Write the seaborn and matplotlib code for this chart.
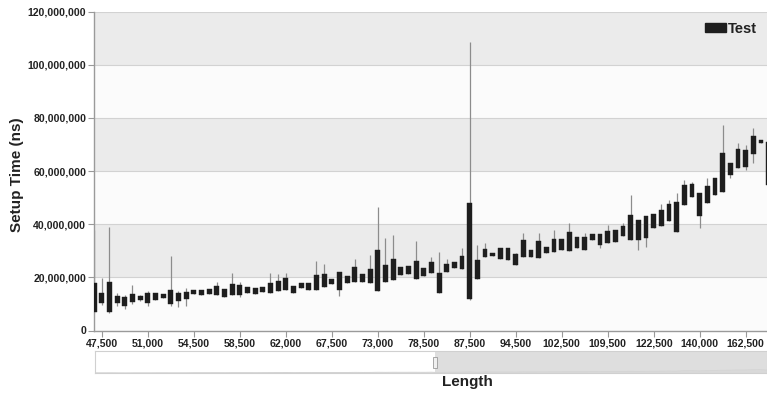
import numpy as np
import pandas as pd
import seaborn as sns
import matplotlib
matplotlib.use("Agg")
import matplotlib.pyplot as plt
from matplotlib.patches import Patch, Rectangle

# ---- data (values in millions of ns) ----
body_top = [18.0, 14.2, 18.4, 13.0, 12.7, 13.7, 13.0, 14.2, 14.0, 13.7,
            15.2, 14.2, 14.6, 15.2, 15.2, 15.5, 16.7, 15.6, 17.5, 17.1,
            16.5, 15.9, 16.5, 17.8, 18.6, 19.6, 16.7, 17.8, 17.8, 20.8,
            21.4, 19.5, 22.1, 20.5, 23.8, 21.4, 23.0, 30.3, 24.8, 26.8,
            24.0, 24.2, 26.3, 23.4, 25.9, 21.8, 25.1, 25.6, 28.1, 47.9,
            26.6, 30.6, 29.3, 30.9, 31.1, 28.8, 34.2, 30.3, 33.6, 31.3,
            34.3, 34.4, 37.0, 35.1, 35.1, 36.3, 36.3, 37.4, 37.8, 39.3,
            43.5, 41.5, 43.1, 43.7, 45.3, 47.5, 48.5, 54.8, 55.1, 51.9,
            54.4, 57.3, 66.7, 63.1, 68.2, 67.9, 73.2, 71.7, 71.0]
body_bottom = [7.1, 10.2, 7.0, 10.5, 9.2, 10.6, 11.5, 10.2, 11.5, 12.2,
               10.0, 11.2, 11.7, 13.7, 13.5, 13.7, 13.2, 12.5, 13.2, 13.5,
               14.2, 13.7, 14.6, 14.0, 15.0, 15.2, 14.2, 15.9, 15.2, 15.4,
               16.4, 17.5, 15.2, 18.0, 18.3, 18.4, 17.8, 15.0, 18.1, 19.0,
               20.8, 21.1, 19.4, 20.4, 21.5, 14.1, 22.1, 23.4, 23.0, 11.7,
               19.5, 27.5, 28.0, 26.8, 26.4, 24.8, 27.5, 27.8, 27.3, 29.1,
               29.7, 30.3, 29.9, 30.9, 30.3, 34.1, 32.2, 32.8, 33.4, 35.6,
               34.1, 34.1, 34.9, 38.5, 39.3, 41.2, 37.2, 47.2, 50.1, 43.1,
               48.1, 51.0, 52.2, 58.5, 61.0, 61.6, 66.3, 70.7, 54.8]
high = [37.8, 19.6, 39.1, 14.1, 13.4, 17.1, 13.4, 15.0, 14.0, 13.7,
        28.0, 14.9, 16.1, 15.2, 15.2, 15.5, 18.4, 15.6, 21.5, 18.4,
        16.5, 15.9, 16.5, 21.8, 21.3, 21.5, 16.7, 17.8, 17.8, 26.2,
        25.0, 19.5, 22.1, 20.5, 26.8, 21.4, 28.4, 46.6, 34.7, 35.8,
        24.0, 24.2, 33.8, 23.4, 27.7, 29.7, 26.8, 25.6, 30.9, 108.6,
        32.2, 32.8, 29.3, 30.9, 31.1, 29.3, 36.6, 30.3, 36.6, 31.3,
        37.8, 34.4, 40.6, 35.1, 36.8, 36.3, 36.3, 39.7, 37.8, 40.3,
        51.0, 41.5, 43.1, 43.7, 47.5, 49.1, 51.6, 56.6, 56.0, 51.9,
        57.3, 57.3, 77.3, 63.1, 70.4, 69.8, 76.1, 71.7, 71.0]
low = [6.6, 9.6, 6.6, 9.2, 8.1, 10.0, 11.1, 9.2, 11.5, 12.2,
       9.2, 9.0, 9.2, 13.7, 13.5, 13.7, 13.2, 12.5, 13.2, 12.5,
       14.2, 13.7, 14.6, 14.0, 15.0, 15.2, 14.0, 15.9, 15.2, 15.4,
       16.4, 17.5, 12.9, 18.0, 18.3, 18.4, 17.8, 14.9, 18.1, 19.0,
       20.8, 21.1, 19.4, 20.4, 21.5, 14.1, 22.1, 23.4, 23.0, 11.5,
       19.5, 27.5, 28.0, 26.8, 26.4, 24.8, 27.5, 27.8, 27.3, 29.1,
       29.7, 30.3, 29.9, 30.9, 30.3, 34.1, 30.9, 32.8, 33.4, 35.6,
       34.1, 30.3, 31.3, 38.5, 39.3, 41.2, 37.2, 47.2, 50.1, 38.5,
       48.1, 51.0, 52.2, 57.3, 61.0, 60.4, 63.1, 70.7, 54.8]
tick_labels = ["47,500", "51,000", "54,500", "58,500", "62,000", "67,500",
               "73,000", "78,500", "87,500", "94,500", "102,500", "109,500",
               "122,500", "140,000", "162,500"]
y_ticks = [0, 20, 40, 60, 80, 100, 120]
series_name = "Test"

df = pd.DataFrame({"pos": np.arange(len(body_top)),
                   "top": np.array(body_top) * 1e6,
                   "bottom": np.array(body_bottom) * 1e6,
                   "high": np.array(high) * 1e6,
                   "low": np.array(low) * 1e6})

sns.set_theme(style="white")
plt.rcParams["font.family"] = ["Liberation Sans", "DejaVu Sans"]

W, H = 767, 394
fig = plt.figure(figsize=(W / 100, H / 100), dpi=100)
ax = fig.add_axes([94 / W, (H - 330.5) / H, (W - 94) / W, (330.5 - 11.6) / H])

# alternating bands + grid
for i in range(6):
    ax.axhspan(i * 20e6, (i + 1) * 20e6,
               color="#ebebeb" if i % 2 == 1 else "#fbfbfb", zorder=0, lw=0)
for v in y_ticks[1:]:
    ax.axhline(v * 1e6, color="#d2d2d2", lw=0.8, zorder=1)

ax.vlines(df["pos"], df["low"], df["high"], color="#8c8c8c", lw=0.9, zorder=2)
ax.bar(df["pos"], df["top"] - df["bottom"], bottom=df["bottom"], width=0.62,
       color="#1e1e1e", edgecolor="#1e1e1e", lw=0.3, zorder=3)

ax.set_xlim(-0.02, 87.77)
ax.set_ylim(0, 120e6)
ax.set_yticks([v * 1e6 for v in y_ticks])
ax.set_yticklabels(["{:,}".format(v * 1000000) for v in y_ticks],
                   fontsize=7.6, fontweight="bold", color="#222222")
xt = np.arange(1, len(body_top), 6)[:len(tick_labels)]
ax.set_xticks(xt)
ax.set_xticklabels(tick_labels, fontsize=7.6, fontweight="bold", color="#222222")
ax.tick_params(axis="both", which="both", length=4, width=0.8, color="#999999",
               pad=1.5, left=True, bottom=True)
for s in ["top", "right"]:
    ax.spines[s].set_visible(False)
for s in ["left", "bottom"]:
    ax.spines[s].set_color("#9a9a9a")
    ax.spines[s].set_linewidth(1.0)

fig.text(17 / W, 1 - 175 / H, "Setup Time (ns)", rotation=90, ha="center",
         va="center", fontsize=11, fontweight="bold", color="#222222")

leg = ax.legend(handles=[Patch(facecolor="#1e1e1e", edgecolor="#1e1e1e", label=series_name)],
                loc="upper right", frameon=False, handlelength=1.4, handleheight=0.6,
                handletextpad=0.15, borderaxespad=0.3,
                prop={"weight": "bold", "size": 10.5})
for t in leg.get_texts():
    t.set_color("#222222")

# navigator
nav = fig.add_axes([95 / W, (H - 373) / H, (W - 95) / W, 22 / H])
nav.set_xlim(0, len(body_top) - 1)
nav.set_ylim(0, 400e6)
nav.fill_between(df["pos"], 0, (df["top"] + df["bottom"]) / 2, color="#e6e6e6", lw=0.6,
                 edgecolor="#cfcfcf", zorder=1)
nav.add_patch(Rectangle((44.5, 0), len(body_top), 400e6, color="#d6d6d6", alpha=0.8,
                        zorder=2, lw=0))
nav.add_patch(Rectangle((44.2, 100e6), 0.6, 200e6, facecolor="#f0f0f0",
                        edgecolor="#9a9a9a", lw=0.6, zorder=3))
nav.set_xticks([])
nav.set_yticks([])
for s in nav.spines.values():
    s.set_color("#d0d0d0")
    s.set_linewidth(0.8)

fig.text(467 / W, 1 - 382 / H, "Length", ha="center", va="center",
         fontsize=11, fontweight="bold", color="#222222")

fig.savefig("out.png", dpi=100)
